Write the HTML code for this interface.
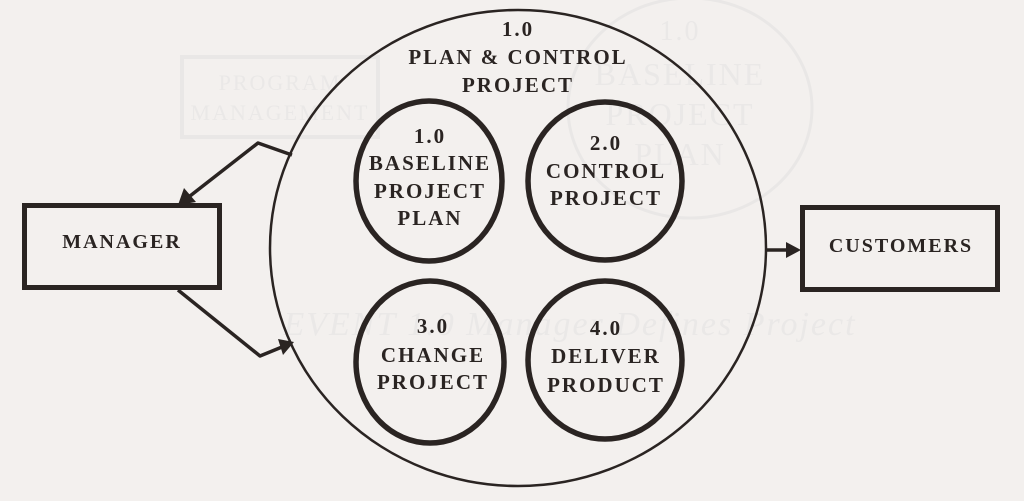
<!DOCTYPE html>
<html><head><meta charset="utf-8"><style>
html,body{margin:0;padding:0;background:#f3f0ee;}
svg{display:block;}
text{font-family:"Liberation Serif",serif;font-weight:bold;fill:#2a2422;text-anchor:middle;font-size:21px;letter-spacing:2px;}
.g{fill:#eae8e7;font-weight:normal;}
</style></head><body>
<svg width="1024" height="501" viewBox="0 0 1024 501" xmlns="http://www.w3.org/2000/svg">
<rect width="1024" height="501" fill="#f3f0ee"/>
<g>
<rect x="182" y="57" width="196" height="80" fill="none" stroke="#e9e7e6" stroke-width="4"/>
<text class="g" x="280" y="90" style="font-size:22px">PROGRAM</text>
<text class="g" x="280" y="120" style="font-size:22px">MANAGEMENT</text>
<ellipse cx="690" cy="108" rx="122" ry="110" fill="none" stroke="#e9e7e6" stroke-width="3"/>
<text class="g" x="680" y="40" style="font-size:28px">1.0</text>
<text class="g" x="680" y="85" style="font-size:32px">BASELINE</text>
<text class="g" x="680" y="125" style="font-size:32px">PROJECT</text>
<text class="g" x="680" y="165" style="font-size:32px">PLAN</text>
<text class="g" x="570" y="335" style="font-size:34px;font-style:italic">EVENT 1.0  Manager  Defines  Project</text>
</g>
<ellipse cx="518" cy="248" rx="248" ry="238" fill="none" stroke="#2a2422" stroke-width="2.5"/>
<g fill="none" stroke="#2a2422" stroke-width="5.5">
<ellipse cx="429" cy="181" rx="73" ry="80"/>
<ellipse cx="605" cy="181" rx="77" ry="79"/>
<ellipse cx="430" cy="362" rx="74" ry="81"/>
<ellipse cx="605" cy="360" rx="77" ry="79"/>
</g>
<rect x="24.5" y="205.5" width="195" height="82" fill="none" stroke="#2a2422" stroke-width="5"/>
<rect x="802.5" y="207.5" width="195" height="82" fill="none" stroke="#2a2422" stroke-width="5"/>
<g fill="none" stroke="#2a2422" stroke-width="3.5" stroke-linejoin="round">
<polyline points="292,155 258,143 190,196"/>
<polyline points="178,290 260,356 282,347"/>
<line x1="767" y1="250" x2="790" y2="250"/>
</g>
<g fill="#2a2422">
<polygon points="178,205 184,188 196,202"/>
<polygon points="294,342 278,339 283,355"/>
<polygon points="801,250 786,242 786,258"/>
</g>
<text x="518" y="36">1.0</text>
<text x="518" y="64">PLAN &amp; CONTROL</text>
<text x="518" y="92">PROJECT</text>
<text x="430" y="143">1.0</text>
<text x="430" y="170">BASELINE</text>
<text x="430" y="198">PROJECT</text>
<text x="430" y="225">PLAN</text>
<text x="606" y="150">2.0</text>
<text x="606" y="178">CONTROL</text>
<text x="606" y="205">PROJECT</text>
<text x="433" y="333">3.0</text>
<text x="433" y="362">CHANGE</text>
<text x="433" y="389">PROJECT</text>
<text x="606" y="335">4.0</text>
<text x="606" y="363">DELIVER</text>
<text x="606" y="392">PRODUCT</text>
<text x="122" y="248" style="font-size:20px">MANAGER</text>
<text x="901" y="252" style="font-size:20px">CUSTOMERS</text>
</svg>
</body></html>
